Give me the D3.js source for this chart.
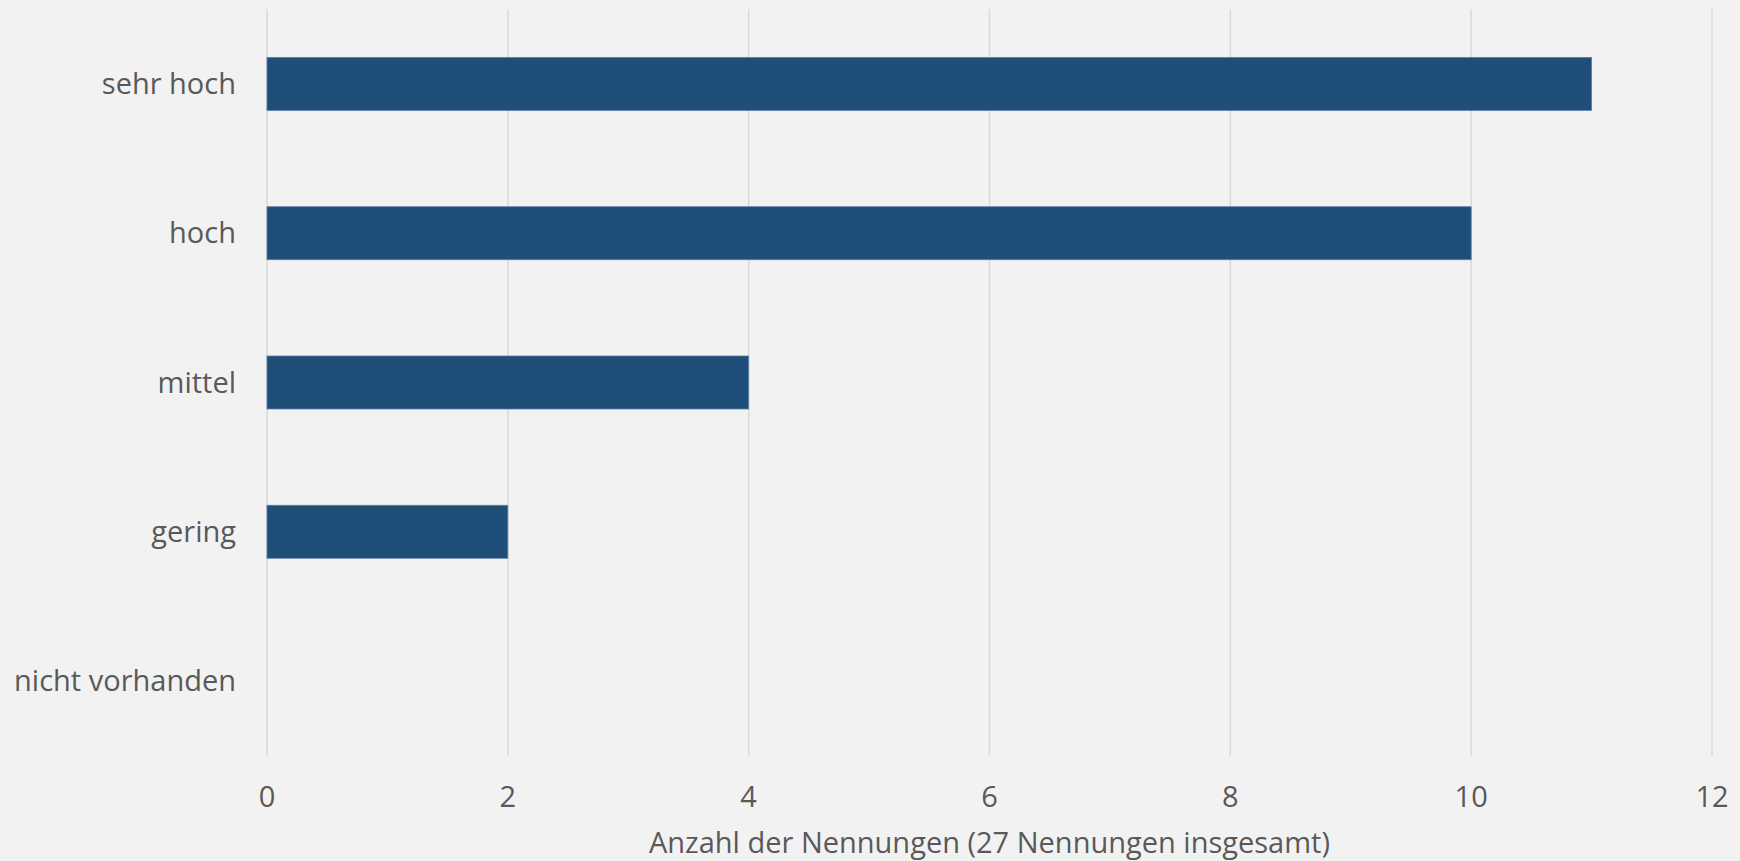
<!DOCTYPE html>
<html>
<head>
<meta charset="utf-8">
<script src="https://cdn.jsdelivr.net/npm/d3@7"></script>
<style>
  body { margin: 0; background: #f2f2f2; }
  svg { display: block; }
  text { font-family: "Open Sans", sans-serif; fill: #595959; }
</style>
</head>
<body>
<svg></svg>
<script>
const width = 1740;
const height = 861;

const categories = ["sehr hoch", "hoch", "mittel", "gering", "nicht vorhanden"];
const counts = [11, 10, 4, 2, 0];
const xTicks = [0, 2, 4, 6, 8, 10, 12];
const xTitle = "Anzahl der Nennungen (27 Nennungen insgesamt)";

const svg = d3.select('svg').attr('width', width).attr('height', height);
svg.append('rect').attr('width', width).attr('height', height).attr('fill', '#f2f2f2');

const x = d3.scaleLinear().domain([0, 12]).range([267, 1712]);
const y = d3.scaleBand().domain(categories).range([9.3, 755.7])
  .paddingInner(0.645).paddingOuter(0.3225);

// gridlines
svg.append('g').selectAll('line').data(xTicks).enter().append('line')
  .attr('x1', d => x(d)).attr('x2', d => x(d))
  .attr('y1', 9.3).attr('y2', 755.7)
  .attr('stroke', '#d9d9d9').attr('stroke-width', 1.5);

// bars
svg.append('g').selectAll('rect').data(counts).enter().append('rect')
  .attr('x', x(0))
  .attr('y', (d, i) => y(categories[i]))
  .attr('width', d => x(d) - x(0))
  .attr('height', y.bandwidth())
  .attr('fill', '#1f4e79')
  .attr('stroke', d => d > 0 ? '#5a7fa5' : 'none')
  .attr('stroke-width', 0.8);

// category labels
svg.append('g').selectAll('text').data(categories).enter().append('text')
  .attr('x', 236)
  .attr('y', d => y(d) + y.bandwidth() / 2 + 10)
  .attr('text-anchor', 'end')
  .attr('font-size', 29)
  .text(d => d);

// x tick labels
svg.append('g').selectAll('text').data(xTicks).enter().append('text')
  .attr('x', d => x(d))
  .attr('y', 806.5)
  .attr('text-anchor', 'middle')
  .attr('font-size', 29)
  .text(d => d);

svg.append('text')
  .attr('x', (x(0) + x(12)) / 2)
  .attr('y', 853)
  .attr('text-anchor', 'middle')
  .attr('font-size', 29)
  .text(xTitle);
</script>
</body>
</html>
